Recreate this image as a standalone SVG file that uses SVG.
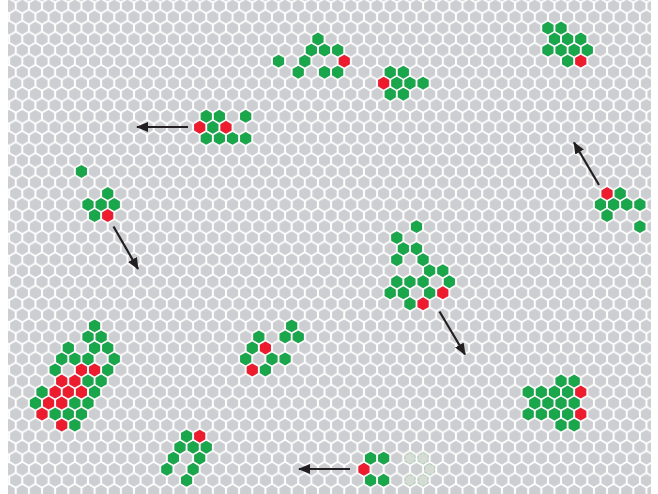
<svg xmlns="http://www.w3.org/2000/svg" xmlns:xlink="http://www.w3.org/1999/xlink" width="658" height="494" viewBox="0 0 658 494">
<style>
use{stroke-width:1.2;stroke-linejoin:round}
.g{fill:#1aa64b;stroke:#1aa64b}
.r{fill:#ec1c2e;stroke:#ec1c2e}
.k{fill:#cdced1;stroke:#cdced1}
.f{fill:#d6dbd6;stroke:#9ed1a9;stroke-width:0.8;stroke-dasharray:3 2}
.a{stroke:#231f20;stroke-width:2.2;fill:none}
</style>
<defs>
<path id="h" d="M0,-5.7 L4.95,-2.85 L4.95,2.85 L0,5.7 L-4.95,2.85 L-4.95,-2.85Z"/>
<pattern id="grid" patternUnits="userSpaceOnUse" x="2.59" y="-5.03" width="13.14" height="22.06">
<use xlink:href="#h" class="k" x="6.57" y="11.03"/>
<use xlink:href="#h" class="k" x="0" y="0"/>
<use xlink:href="#h" class="k" x="13.14" y="0"/>
<use xlink:href="#h" class="k" x="0" y="22.06"/>
<use xlink:href="#h" class="k" x="13.14" y="22.06"/>
</pattern>
<marker id="ah" markerUnits="userSpaceOnUse" markerWidth="14" markerHeight="12" refX="11" refY="5" orient="auto">
<path d="M0,0 L12,5 L0,10Z" fill="#231f20"/>
</marker>
</defs>
<rect width="658" height="494" fill="#fff"/>
<rect x="8" y="0" width="643" height="494" fill="url(#grid)"/>

<g id="clusterA">
<use xlink:href="#h" class="g" x="317.96" y="39.09"/>
<use xlink:href="#h" class="g" x="311.38" y="50.12"/>
<use xlink:href="#h" class="g" x="324.52" y="50.12"/>
<use xlink:href="#h" class="g" x="337.66" y="50.12"/>
<use xlink:href="#h" class="g" x="278.54" y="61.15"/>
<use xlink:href="#h" class="g" x="304.82" y="61.15"/>
<use xlink:href="#h" class="r" x="344.24" y="61.15"/>
<use xlink:href="#h" class="g" x="298.24" y="72.18"/>
<use xlink:href="#h" class="g" x="324.52" y="72.18"/>
<use xlink:href="#h" class="g" x="337.66" y="72.18"/>
</g>
<g id="clusterB">
<use xlink:href="#h" class="g" x="390.22" y="72.18"/>
<use xlink:href="#h" class="g" x="403.36" y="72.18"/>
<use xlink:href="#h" class="r" x="383.66" y="83.21"/>
<use xlink:href="#h" class="g" x="396.8" y="83.21"/>
<use xlink:href="#h" class="g" x="409.94" y="83.21"/>
<use xlink:href="#h" class="g" x="423.08" y="83.21"/>
<use xlink:href="#h" class="g" x="390.22" y="94.24"/>
<use xlink:href="#h" class="g" x="403.36" y="94.24"/>
</g>
<g id="clusterC">
<use xlink:href="#h" class="g" x="547.9" y="28.06"/>
<use xlink:href="#h" class="g" x="561.04" y="28.06"/>
<use xlink:href="#h" class="g" x="554.48" y="39.09"/>
<use xlink:href="#h" class="g" x="567.62" y="39.09"/>
<use xlink:href="#h" class="g" x="580.76" y="39.09"/>
<use xlink:href="#h" class="g" x="547.9" y="50.12"/>
<use xlink:href="#h" class="g" x="561.04" y="50.12"/>
<use xlink:href="#h" class="g" x="574.18" y="50.12"/>
<use xlink:href="#h" class="g" x="587.32" y="50.12"/>
<use xlink:href="#h" class="g" x="567.62" y="61.15"/>
<use xlink:href="#h" class="r" x="580.76" y="61.15"/>
</g>
<g id="clusterD">
<use xlink:href="#h" class="g" x="206.26" y="116.3"/>
<use xlink:href="#h" class="g" x="219.4" y="116.3"/>
<use xlink:href="#h" class="g" x="245.68" y="116.3"/>
<use xlink:href="#h" class="r" x="199.7" y="127.33"/>
<use xlink:href="#h" class="g" x="212.84" y="127.33"/>
<use xlink:href="#h" class="r" x="225.98" y="127.33"/>
<use xlink:href="#h" class="g" x="206.26" y="138.36"/>
<use xlink:href="#h" class="g" x="219.4" y="138.36"/>
<use xlink:href="#h" class="g" x="232.54" y="138.36"/>
<use xlink:href="#h" class="g" x="245.68" y="138.36"/>
</g>
<g id="clusterE">
<use xlink:href="#h" class="g" x="81.44" y="171.45"/>
<use xlink:href="#h" class="g" x="107.72" y="193.51"/>
<use xlink:href="#h" class="g" x="88" y="204.54"/>
<use xlink:href="#h" class="g" x="101.14" y="204.54"/>
<use xlink:href="#h" class="g" x="114.28" y="204.54"/>
<use xlink:href="#h" class="g" x="94.58" y="215.57"/>
<use xlink:href="#h" class="r" x="107.72" y="215.57"/>
</g>
<g id="clusterF">
<use xlink:href="#h" class="g" x="416.5" y="226.6"/>
<use xlink:href="#h" class="g" x="396.8" y="237.63"/>
<use xlink:href="#h" class="g" x="403.36" y="248.66"/>
<use xlink:href="#h" class="g" x="416.5" y="248.66"/>
<use xlink:href="#h" class="g" x="396.8" y="259.69"/>
<use xlink:href="#h" class="g" x="423.08" y="259.69"/>
<use xlink:href="#h" class="g" x="429.64" y="270.72"/>
<use xlink:href="#h" class="g" x="442.78" y="270.72"/>
<use xlink:href="#h" class="g" x="396.8" y="281.75"/>
<use xlink:href="#h" class="g" x="409.94" y="281.75"/>
<use xlink:href="#h" class="g" x="423.08" y="281.75"/>
<use xlink:href="#h" class="g" x="449.36" y="281.75"/>
<use xlink:href="#h" class="g" x="390.22" y="292.78"/>
<use xlink:href="#h" class="g" x="403.36" y="292.78"/>
<use xlink:href="#h" class="g" x="429.64" y="292.78"/>
<use xlink:href="#h" class="r" x="442.78" y="292.78"/>
<use xlink:href="#h" class="g" x="409.94" y="303.81"/>
<use xlink:href="#h" class="r" x="423.08" y="303.81"/>
</g>
<g id="clusterG">
<use xlink:href="#h" class="r" x="607.04" y="193.51"/>
<use xlink:href="#h" class="g" x="620.18" y="193.51"/>
<use xlink:href="#h" class="g" x="600.46" y="204.54"/>
<use xlink:href="#h" class="g" x="613.6" y="204.54"/>
<use xlink:href="#h" class="g" x="626.74" y="204.54"/>
<use xlink:href="#h" class="g" x="639.88" y="204.54"/>
<use xlink:href="#h" class="g" x="607.04" y="215.57"/>
<use xlink:href="#h" class="g" x="639.88" y="226.6"/>
</g>
<g id="clusterH">
<use xlink:href="#h" class="g" x="94.58" y="325.87"/>
<use xlink:href="#h" class="g" x="88" y="336.9"/>
<use xlink:href="#h" class="g" x="101.14" y="336.9"/>
<use xlink:href="#h" class="g" x="68.3" y="347.93"/>
<use xlink:href="#h" class="g" x="94.58" y="347.93"/>
<use xlink:href="#h" class="g" x="107.72" y="347.93"/>
<use xlink:href="#h" class="g" x="61.72" y="358.96"/>
<use xlink:href="#h" class="g" x="74.86" y="358.96"/>
<use xlink:href="#h" class="g" x="88" y="358.96"/>
<use xlink:href="#h" class="g" x="114.28" y="358.96"/>
<use xlink:href="#h" class="g" x="55.16" y="369.99"/>
<use xlink:href="#h" class="r" x="81.44" y="369.99"/>
<use xlink:href="#h" class="r" x="94.58" y="369.99"/>
<use xlink:href="#h" class="g" x="107.72" y="369.99"/>
<use xlink:href="#h" class="r" x="61.72" y="381.02"/>
<use xlink:href="#h" class="r" x="74.86" y="381.02"/>
<use xlink:href="#h" class="g" x="88" y="381.02"/>
<use xlink:href="#h" class="g" x="101.14" y="381.02"/>
<use xlink:href="#h" class="g" x="42.02" y="392.05"/>
<use xlink:href="#h" class="r" x="55.16" y="392.05"/>
<use xlink:href="#h" class="r" x="68.3" y="392.05"/>
<use xlink:href="#h" class="r" x="81.44" y="392.05"/>
<use xlink:href="#h" class="g" x="94.58" y="392.05"/>
<use xlink:href="#h" class="g" x="35.44" y="403.08"/>
<use xlink:href="#h" class="r" x="48.58" y="403.08"/>
<use xlink:href="#h" class="r" x="61.72" y="403.08"/>
<use xlink:href="#h" class="g" x="74.86" y="403.08"/>
<use xlink:href="#h" class="g" x="88" y="403.08"/>
<use xlink:href="#h" class="r" x="42.02" y="414.11"/>
<use xlink:href="#h" class="g" x="55.16" y="414.11"/>
<use xlink:href="#h" class="g" x="68.3" y="414.11"/>
<use xlink:href="#h" class="g" x="81.44" y="414.11"/>
<use xlink:href="#h" class="r" x="61.72" y="425.14"/>
<use xlink:href="#h" class="g" x="74.86" y="425.14"/>
</g>
<g id="clusterI">
<use xlink:href="#h" class="g" x="291.68" y="325.87"/>
<use xlink:href="#h" class="g" x="258.82" y="336.9"/>
<use xlink:href="#h" class="g" x="285.1" y="336.9"/>
<use xlink:href="#h" class="g" x="298.24" y="336.9"/>
<use xlink:href="#h" class="g" x="252.26" y="347.93"/>
<use xlink:href="#h" class="r" x="265.4" y="347.93"/>
<use xlink:href="#h" class="g" x="245.68" y="358.96"/>
<use xlink:href="#h" class="g" x="271.96" y="358.96"/>
<use xlink:href="#h" class="g" x="285.1" y="358.96"/>
<use xlink:href="#h" class="r" x="252.26" y="369.99"/>
<use xlink:href="#h" class="g" x="265.4" y="369.99"/>
</g>
<g id="clusterJ">
<use xlink:href="#h" class="g" x="561.04" y="381.02"/>
<use xlink:href="#h" class="g" x="574.18" y="381.02"/>
<use xlink:href="#h" class="g" x="528.2" y="392.05"/>
<use xlink:href="#h" class="g" x="541.34" y="392.05"/>
<use xlink:href="#h" class="g" x="554.48" y="392.05"/>
<use xlink:href="#h" class="g" x="567.62" y="392.05"/>
<use xlink:href="#h" class="r" x="580.76" y="392.05"/>
<use xlink:href="#h" class="g" x="534.76" y="403.08"/>
<use xlink:href="#h" class="g" x="547.9" y="403.08"/>
<use xlink:href="#h" class="g" x="561.04" y="403.08"/>
<use xlink:href="#h" class="g" x="574.18" y="403.08"/>
<use xlink:href="#h" class="g" x="528.2" y="414.11"/>
<use xlink:href="#h" class="g" x="541.34" y="414.11"/>
<use xlink:href="#h" class="g" x="554.48" y="414.11"/>
<use xlink:href="#h" class="g" x="567.62" y="414.11"/>
<use xlink:href="#h" class="r" x="580.76" y="414.11"/>
<use xlink:href="#h" class="g" x="561.04" y="425.14"/>
<use xlink:href="#h" class="g" x="574.18" y="425.14"/>
</g>
<g id="clusterK">
<use xlink:href="#h" class="g" x="186.56" y="436.17"/>
<use xlink:href="#h" class="r" x="199.7" y="436.17"/>
<use xlink:href="#h" class="g" x="179.98" y="447.2"/>
<use xlink:href="#h" class="g" x="193.12" y="447.2"/>
<use xlink:href="#h" class="g" x="206.26" y="447.2"/>
<use xlink:href="#h" class="g" x="173.42" y="458.23"/>
<use xlink:href="#h" class="g" x="199.7" y="458.23"/>
<use xlink:href="#h" class="g" x="166.84" y="469.26"/>
<use xlink:href="#h" class="g" x="193.12" y="469.26"/>
<use xlink:href="#h" class="g" x="186.56" y="480.29"/>
</g>
<g id="clusterL">
<use xlink:href="#h" class="g" x="370.52" y="458.23"/>
<use xlink:href="#h" class="g" x="383.66" y="458.23"/>
<use xlink:href="#h" class="r" x="363.94" y="469.26"/>
<use xlink:href="#h" class="g" x="370.52" y="480.29"/>
<use xlink:href="#h" class="g" x="383.66" y="480.29"/>
</g>
<g id="ghostL">
<use xlink:href="#h" class="f" x="409.94" y="458.23"/>
<use xlink:href="#h" class="f" x="423.08" y="458.23"/>
<use xlink:href="#h" class="f" x="429.64" y="469.26"/>
<use xlink:href="#h" class="f" x="409.94" y="480.29"/>
<use xlink:href="#h" class="f" x="423.08" y="480.29"/>
</g>

<g id="connectors" class="a">
<line x1="188" y1="127" x2="137" y2="127" marker-end="url(#ah)"/>
<line x1="113.5" y1="226.5" x2="138" y2="269" marker-end="url(#ah)"/>
<line x1="439.5" y1="311.5" x2="465" y2="354.5" marker-end="url(#ah)"/>
<line x1="599" y1="185" x2="574" y2="142.5" marker-end="url(#ah)"/>
<line x1="350" y1="469" x2="299" y2="469" marker-end="url(#ah)"/>
</g>
</svg>
